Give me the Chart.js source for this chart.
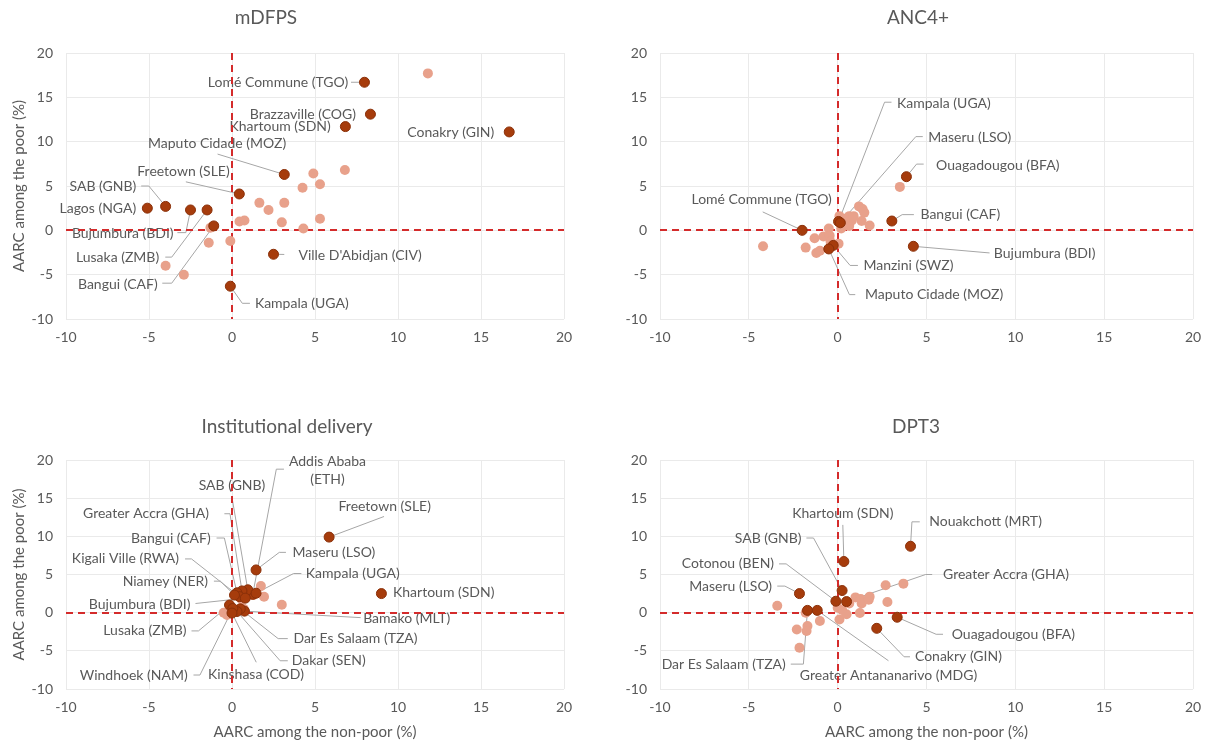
<!DOCTYPE html>
<html>
<head>
<meta charset="utf-8">
<script src="https://cdn.jsdelivr.net/npm/chart.js@4.4.1/dist/chart.umd.min.js"></script>
<style>
  html, body { margin: 0; padding: 0; background: #ffffff; }
  body { width: 1213px; height: 743px; position: relative; overflow: hidden; }
  canvas { position: absolute; }
</style>
</head>
<body>
<canvas id="pMdfps" width="600" height="360" style="left:0;top:0"></canvas>
<canvas id="pAnc" width="607" height="360" style="left:606px;top:0"></canvas>
<canvas id="pInst" width="600" height="343" style="left:0;top:400px"></canvas>
<canvas id="pDpt" width="607" height="343" style="left:606px;top:400px"></canvas>
<script>
// ---------- axis ticks ----------
const tickMin = -10;
const tickMax = 20;
const tickStep = 5;

// ---------- mDFPS ----------
const mdfpsOtherX = [11.8, 4.9, 6.8, 5.3, 4.25, 1.65, 3.15, 2.2, 0.45, 0.75, 3.0, 5.3, 4.3, -1.4, -0.1, -4.0, -2.9, -1.3];
const mdfpsOtherY = [17.7, 6.4, 6.8, 5.2, 4.8, 3.1, 3.1, 2.3, 1.0, 1.1, 0.9, 1.3, 0.2, -1.4, -1.2, -4.0, -5.0, 0.3];
const mdfpsNames = ['Lomé Commune (TGO)', 'Brazzaville (COG)', 'Khartoum (SDN)', 'Conakry (GIN)', 'Maputo Cidade (MOZ)',
  'Freetown (SLE)', 'SAB (GNB)', 'Lagos (NGA)', 'Bujumbura (BDI)', 'Lusaka (ZMB)', 'Bangui (CAF)', "Ville D'Abidjan (CIV)", 'Kampala (UGA)'];
const mdfpsNamedX = [7.98, 8.34, 6.83, 16.7, 3.15, 0.44, -4.0, -5.1, -2.5, -1.5, -1.1, 2.5, -0.1];
const mdfpsNamedY = [16.7, 13.1, 11.7, 11.1, 6.3, 4.1, 2.7, 2.5, 2.3, 2.3, 0.5, -2.7, -6.3];

// ---------- ANC4+ ----------
const ancOtherX = [-4.2, 3.5, 1.2, 1.4, 1.5, 1.35, 1.8, 0.65, 0.8, 0.45, 0.2, 0.1, -0.5, -0.8, -1.3, -0.45, -1.8, -1.2, -1.0, 0.05, 0.65, 0.4, 0.9, -0.4];
const ancOtherY = [-1.8, 4.9, 2.7, 2.4, 2.0, 1.05, 0.55, 1.6, 1.1, 0.75, 0.2, 1.6, 0.2, -0.7, -0.9, -0.6, -1.95, -2.55, -2.3, -1.5, 0.5, 1.3, 1.6, -1.3];
const ancNames = ['Kampala (UGA)', 'Maseru (LSO)', 'Ouagadougou (BFA)', 'Lomé Commune (TGO)', 'Bangui (CAF)',
  'Bujumbura (BDI)', 'Manzini (SWZ)', 'Maputo Cidade (MOZ)'];
const ancNamedX = [0.05, 0.15, 3.87, -2.0, 3.05, 4.26, -0.25, -0.5];
const ancNamedY = [1.0, 0.85, 6.05, 0.0, 1.05, -1.8, -1.7, -2.1];

// ---------- Institutional delivery ----------
const instOtherX = [1.74, 1.93, 3.0, 0.7, -0.5, 1.28, 0.58, -0.3];
const instOtherY = [3.48, 2.09, 1.04, 0.5, 0.0, 2.3, 1.74, -0.3];
const instNames = ['Addis Ababa\n(ETH)', 'SAB (GNB)', 'Greater Accra (GHA)', 'Freetown (SLE)', 'Bangui (CAF)', 'Maseru (LSO)',
  'Kigali Ville (RWA)', 'Kampala (UGA)', 'Niamey (NER)', 'Khartoum (SDN)', 'Bujumbura (BDI)', 'Bamako (MLT)',
  'Lusaka (ZMB)', 'Dar Es Salaam (TZA)', 'Dakar (SEN)', 'Windhoek (NAM)', 'Kinshasa (COD)'];
const instNamedX = [1.25, 0.95, 0.6, 5.85, 0.3, 1.45, 0.45, 1.45, 0.15, 9.0, 0.8, 0.75, -0.15, 0.5, 0.3, 0.05, 0.0];
const instNamedY = [2.4, 3.0, 2.85, 9.9, 2.6, 5.6, 2.1, 2.55, 2.3, 2.5, 1.9, 0.2, 1.0, 0.5, 0.15, 0.55, -0.05];

// ---------- DPT3 ----------
const dptOtherX = [-3.4, -2.3, -1.7, -1.75, -2.15, -1.0, -1.8, 0.0, 0.1, 0.5, 0.65, 1.0, 1.3, 1.35, 1.25, 1.75, 1.8, 2.8, 2.7, 3.7, 0.25];
const dptOtherY = [0.9, -2.2, -1.75, -2.4, -4.6, -1.1, 0.0, 0.65, -0.9, -0.2, 1.2, 2.0, 1.8, 1.2, -0.05, 1.7, 2.1, 1.4, 3.6, 3.8, 0.35];
const dptNames = ['Khartoum (SDN)', 'Nouakchott (MRT)', 'SAB (GNB)', 'Cotonou (BEN)', 'Maseru (LSO)', 'Greater Accra (GHA)',
  'Ouagadougou (BFA)', 'Conakry (GIN)', 'Greater Antananarivo (MDG)', 'Dar Es Salaam (TZA)'];
const dptNamedX = [0.35, 4.1, 0.25, -0.1, -2.15, 0.5, 3.35, 2.2, -1.15, -1.7];
const dptNamedY = [6.7, 8.7, 2.9, 1.5, 2.5, 1.45, -0.6, -2.05, 0.3, 0.3];

// ---------- label placement (value units): text anchor, alignment, leader path ----------
const mdfpsLabelAt = [
  [7.0, 16.7, 'right', [[7.17, 16.7]]],
  [7.47, 13.1, 'right', null],
  [5.95, 11.7, 'right', null],
  [15.8, 11.0, 'right', null],
  [3.26, 9.74, 'right', [[-0.87, 8.6]]],
  [-0.14, 6.68, 'right', [[-2.78, 5.47]]],
  [-5.77, 4.98, 'right', [[-5.47, 5.0], [-5.01, 5.0]]],
  [-5.77, 2.49, 'right', null],
  [-3.52, -0.38, 'right', [[-3.29, -0.26], [-2.78, -0.26]]],
  [-4.39, -3.1, 'right', [[-4.02, -3.02], [-3.63, -3.02]]],
  [-4.48, -6.07, 'right', [[-4.2, -5.96], [-3.63, -5.96]]],
  [4.0, -2.83, 'left', [[3.15, -2.72]]],
  [1.38, -8.2, 'left', [[1.08, -8.23], [0.62, -8.23]]]
];
const ancLabelAt = [
  [3.34, 14.3, 'left', [[3.03, 14.45], [2.64, 14.45]]],
  [5.1, 10.5, 'left', [[4.79, 10.57], [4.4, 10.57]]],
  [5.54, 7.28, 'left', [[4.84, 7.47], [4.44, 7.47]]],
  [-0.33, 3.47, 'right', [[-4.22, 2.08]]],
  [4.66, 1.77, 'left', [[4.29, 1.77], [3.63, 1.77]]],
  [8.79, -2.64, 'left', [[8.55, -2.55]]],
  [1.45, -3.96, 'left', [[1.14, -3.96], [0.7, -3.96]]],
  [1.54, -7.25, 'left', [[0.99, -7.25], [0.66, -7.25]]]
];
const instLabelAt = [
  [5.75, 18.65, 'center', [[3.13, 18.8], [2.67, 18.8]]],
  [0.0, 16.65, 'center', [[0.0, 15.1]]],
  [-1.39, 12.96, 'right', [[-0.46, 12.96], [-0.12, 12.96]]],
  [9.2, 13.9, 'center', [[9.16, 12.6]]],
  [-1.28, 9.78, 'right', [[-0.93, 9.78], [-0.46, 9.78]]],
  [3.64, 7.9, 'left', [[3.25, 7.9], [2.85, 7.9]]],
  [-3.2, 7.04, 'right', [[-2.83, 7.04], [-2.44, 7.04]]],
  [4.45, 5.13, 'left', [[4.18, 5.13], [3.71, 5.13]]],
  [-1.44, 4.13, 'right', [[-1.09, 4.13], [-0.7, 4.13]]],
  [9.7, 2.6, 'left', null],
  [-2.5, 1.09, 'right', [[-2.2, 1.2]]],
  [7.9, -0.78, 'left', [[7.75, -0.65]]],
  [-2.74, -2.39, 'right', [[-2.44, -2.39], [-2.02, -2.39]]],
  [3.7, -3.4, 'left', [[3.36, -3.4], [2.78, -3.4]]],
  [3.6, -6.3, 'left', [[3.36, -6.3], [2.9, -6.3]]],
  [-2.67, -8.17, 'right', [[-2.32, -8.17], [-1.93, -8.17]]],
  [-1.44, -8.04, 'left', [[1.46, -6.5]]]
];
const dptLabelAt = [
  [0.29, 12.96, 'center', [[0.29, 11.5]]],
  [5.16, 11.9, 'left', [[4.62, 11.9], [4.18, 11.9]]],
  [-2.04, 9.78, 'right', [[-1.76, 9.78], [-1.36, 9.78]]],
  [-3.58, 6.39, 'right', [[-3.3, 6.39], [-2.9, 6.39]]],
  [-3.69, 3.48, 'right', [[-3.4, 3.48], [-2.97, 3.48]]],
  [5.93, 5.0, 'left', [[5.32, 5.0], [4.95, 5.0]]],
  [6.42, -2.83, 'left', [[5.93, -2.83], [5.54, -2.83]]],
  [4.35, -5.78, 'left', [[4.07, -5.78], [3.74, -5.78]]],
  [2.86, -8.17, 'center', [[2.86, -6.3]]],
  [-2.92, -6.74, 'right', [[-2.64, -6.74], [-1.93, -6.74]]]
];

const TEXT = '#595959';
const FONT = 'Lato';

// Titles, zero reference lines, data labels and their leader lines
const annotate = {
  id: 'annotate',
  beforeDatasetsDraw(chart, args, opts) {
    const { ctx, chartArea: a, scales: { x, y } } = chart;
    ctx.save();
    // leader lines
    ctx.strokeStyle = '#A6A6A6';
    ctx.lineWidth = 1;
    opts.labels.forEach(l => {
      if (!l.lead) return;
      ctx.beginPath();
      l.lead.forEach((p, i) => {
        const px = x.getPixelForValue(p[0]), py = y.getPixelForValue(p[1]);
        if (i) ctx.lineTo(px, py); else ctx.moveTo(px, py);
      });
      ctx.lineTo(x.getPixelForValue(l.mx), y.getPixelForValue(l.my));
      ctx.stroke();
    });
    // label text
    ctx.fillStyle = TEXT;
    ctx.font = '14px ' + FONT;
    ctx.textBaseline = 'middle';
    opts.labels.forEach(l => {
      ctx.textAlign = l.align;
      const lines = l.text.split('\n');
      const lh = 17.5;
      lines.forEach((t, i) => {
        ctx.fillText(t, x.getPixelForValue(l.x), y.getPixelForValue(l.y) + (i - (lines.length - 1) / 2) * lh);
      });
    });
    // dashed zero lines
    ctx.strokeStyle = '#D42B2B';
    ctx.lineWidth = 2;
    ctx.setLineDash([7, 5]);
    const x0 = Math.round(x.getPixelForValue(0)), y0 = Math.round(y.getPixelForValue(0));
    ctx.beginPath();
    ctx.moveTo(x0, a.top); ctx.lineTo(x0, a.bottom);
    ctx.moveTo(a.left, y0); ctx.lineTo(a.right, y0);
    ctx.stroke();
    ctx.restore();
  },
  afterDraw(chart, args, opts) {
    const { ctx } = chart;
    ctx.save();
    ctx.fillStyle = TEXT;
    ctx.font = '19px ' + FONT;
    ctx.textAlign = 'center';
    ctx.textBaseline = 'middle';
    ctx.fillText(opts.title, opts.titleX, opts.titleY);
    ctx.restore();
  }
};

function points(xs, ys) {
  return xs.map((v, i) => ({ x: v, y: ys[i] }));
}

function axis(showTitle, titleText, isX, size) {
  return {
    type: 'linear',
    min: tickMin,
    max: tickMax,
    ticks: { stepSize: tickStep, color: TEXT, font: { family: FONT, size: 14 }, padding: isX ? 10 : 13 },
    grid: { color: '#EAEAEA', lineWidth: 1, drawTicks: false },
    border: { display: false },
    title: {
      display: showTitle,
      text: titleText,
      color: TEXT,
      font: { family: FONT, size: 15 },
      padding: isX ? { top: 0, bottom: 2 } : { top: 10, bottom: 0 }
    },
    afterFit(scale) {
      if (isX) scale.height = size; else scale.width = size;
    }
  };
}

function panel(id, p) {
  const labels = p.names.map((n, i) => ({
    text: n,
    x: p.labelAt[i][0], y: p.labelAt[i][1], align: p.labelAt[i][2], lead: p.labelAt[i][3],
    mx: p.namedX[i], my: p.namedY[i]
  }));
  return new Chart(document.getElementById(id), {
    type: 'scatter',
    data: {
      datasets: [
        {
          label: 'Named cities',
          data: points(p.namedX, p.namedY),
          backgroundColor: '#A63C0C',
          borderColor: '#8A3009',
          borderWidth: 1,
          pointRadius: 5,
          order: 0
        },
        {
          label: 'Other cities',
          data: points(p.otherX, p.otherY),
          backgroundColor: '#E8A18B',
          borderColor: '#E8A18B',
          borderWidth: 0,
          pointRadius: 5,
          order: 1
        }
      ]
    },
    options: {
      responsive: false,
      animation: false,
      events: [],
      layout: { padding: { left: 0, top: p.top, right: p.right, bottom: 0 } },
      scales: {
        x: axis(p.xTitle, 'AARC among the non-poor (%)', true, p.xHeight),
        y: axis(p.yTitle, 'AARC among the poor (%)', false, p.yWidth)
      },
      plugins: {
        legend: { display: false },
        tooltip: { enabled: false },
        annotate: { labels, title: p.title, titleX: p.titleX, titleY: p.titleY }
      }
    },
    plugins: [annotate]
  });
}

function build() {
  Chart.defaults.font.family = FONT;
  panel('pMdfps', {
    title: 'mDFPS', titleX: 266, titleY: 18,
    otherX: mdfpsOtherX, otherY: mdfpsOtherY, names: mdfpsNames, namedX: mdfpsNamedX, namedY: mdfpsNamedY,
    labelAt: mdfpsLabelAt, yTitle: true, xTitle: false, yWidth: 66, xHeight: 41, top: 53, right: 36
  });
  panel('pAnc', {
    title: 'ANC4+', titleX: 312, titleY: 18,
    otherX: ancOtherX, otherY: ancOtherY, names: ancNames, namedX: ancNamedX, namedY: ancNamedY,
    labelAt: ancLabelAt, yTitle: false, xTitle: false, yWidth: 54, xHeight: 41, top: 53, right: 20
  });
  panel('pInst', {
    title: 'Institutional delivery', titleX: 287, titleY: 27,
    otherX: instOtherX, otherY: instOtherY, names: instNames, namedX: instNamedX, namedY: instNamedY,
    labelAt: instLabelAt, yTitle: true, xTitle: true, yWidth: 66, xHeight: 54, top: 60, right: 36
  });
  panel('pDpt', {
    title: 'DPT3', titleX: 310, titleY: 27,
    otherX: dptOtherX, otherY: dptOtherY, names: dptNames, namedX: dptNamedX, namedY: dptNamedY,
    labelAt: dptLabelAt, yTitle: false, xTitle: true, yWidth: 54, xHeight: 54, top: 60, right: 20
  });
}

if (document.fonts && document.fonts.load) {
  Promise.all([document.fonts.load('14px Lato'), document.fonts.load('19px Lato')]).then(build, build);
} else {
  build();
}
</script>
</body>
</html>
